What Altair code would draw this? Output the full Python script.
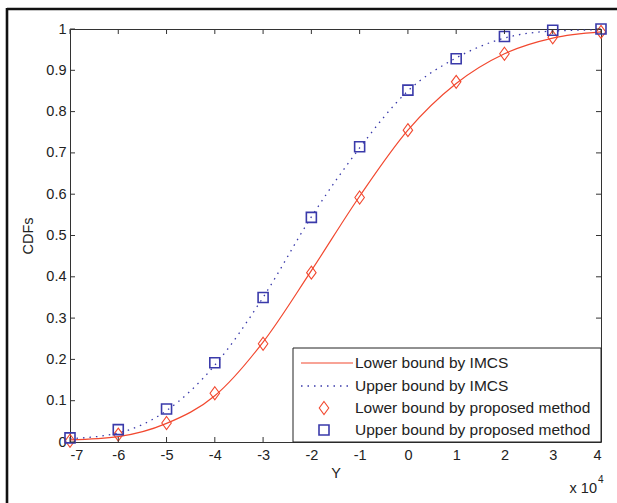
import altair as alt
import pandas as pd

# ---- data ----
x_vals = [-7, -6, -5, -4, -3, -2, -1, 0, 1, 2, 3, 4]
lower_imcs = [0.005, 0.013, 0.045, 0.112, 0.242, 0.415, 0.595, 0.755, 0.868, 0.94, 0.978, 0.993]
upper_imcs = [0.008, 0.022, 0.076, 0.186, 0.35, 0.545, 0.712, 0.85, 0.93, 0.978, 0.995, 0.998]
lower_prop = [0.003, 0.018, 0.046, 0.118, 0.238, 0.41, 0.592, 0.755, 0.872, 0.94, 0.98, 0.993]
upper_prop = [0.01, 0.03, 0.08, 0.192, 0.35, 0.544, 0.715, 0.852, 0.928, 0.982, 0.997, 1.0]

x_ticks = [-7, -6, -5, -4, -3, -2, -1, 0, 1, 2, 3, 4]
y_ticks = [0, 0.1, 0.2, 0.3, 0.4, 0.5, 0.6, 0.7, 0.8, 0.9, 1]

legend_labels = ["Lower bound by IMCS", "Upper bound by IMCS",
                 "Lower bound by proposed method", "Upper bound by proposed method"]

RED = "#F2482F"
BLUE = "#3A3AAA"
FONT = "Liberation Sans"
TXT = "#222222"
FS = 14.5

W, H = 531, 413

xs = alt.Scale(domain=[-7, 4], nice=False, zero=False)
ys = alt.Scale(domain=[0, 1], nice=False, zero=False)

df = pd.DataFrame({"x": x_vals, "lo": lower_imcs, "up": upper_imcs,
                   "lp": lower_prop, "upp": upper_prop})

xaxis = alt.Axis(values=x_ticks, title="Y", tickSize=0, domain=False, grid=False,
                 labelExpr="'' + datum.value", labelPadding=6, titlePadding=5,
                 labelFont=FONT, labelFontSize=FS, labelColor=TXT,
                 titleFont=FONT, titleFontSize=FS, titleColor=TXT, titleFontWeight="normal")
yaxis = alt.Axis(values=y_ticks, title="CDFs", tickSize=0, domain=False, grid=False,
                 labelExpr="'' + datum.value", labelPadding=4, titlePadding=10,
                 labelFont=FONT, labelFontSize=FS, labelColor=TXT,
                 titleFont=FONT, titleFontSize=FS, titleColor=TXT, titleFontWeight="normal")

base = alt.Chart(df)
line_lo = base.mark_line(color=RED, strokeWidth=1.2, interpolate="monotone").encode(
    x=alt.X("x:Q", scale=xs, axis=xaxis), y=alt.Y("lo:Q", scale=ys, axis=yaxis))
line_up = base.mark_line(color=BLUE, strokeWidth=1.3, strokeDash=[1.5, 5],
                         interpolate="monotone").encode(
    x=alt.X("x:Q", scale=xs), y=alt.Y("up:Q", scale=ys))

DIAMOND = "M0,-1.3L0.95,0L0,1.3L-0.95,0Z"
pts_lo = base.mark_point(shape=DIAMOND, size=100, filled=False, stroke=RED,
                         strokeWidth=1.1, opacity=1).encode(
    x=alt.X("x:Q", scale=xs), y=alt.Y("lp:Q", scale=ys))
pts_up = base.mark_point(shape="square", size=100, filled=False, stroke=BLUE,
                         strokeWidth=1.6, opacity=1).encode(
    x=alt.X("x:Q", scale=xs), y=alt.Y("upp:Q", scale=ys))

# inside ticks (MATLAB box style)
xt = alt.Chart(pd.DataFrame({"x": x_ticks}))
yt = alt.Chart(pd.DataFrame({"lo": y_ticks}))
tick_style = dict(color="#333333", strokeWidth=1)
tb = xt.mark_rule(**tick_style).encode(x=alt.X("x:Q", scale=xs), y=alt.value(H), y2=alt.value(H - 5))
tt = xt.mark_rule(**tick_style).encode(x=alt.X("x:Q", scale=xs), y=alt.value(0), y2=alt.value(5))
tl = yt.mark_rule(**tick_style).encode(y=alt.Y("lo:Q", scale=ys), x=alt.value(0), x2=alt.value(5))
tr = yt.mark_rule(**tick_style).encode(y=alt.Y("lo:Q", scale=ys), x=alt.value(W), x2=alt.value(W - 5))

# outer frame (top and left edges)
frame_top = alt.Chart(pd.DataFrame({"a": [0]})).mark_rule(color="#111111", strokeWidth=2.6).encode(
    x=alt.value(-63), x2=alt.value(560), y=alt.value(-20))
frame_left = alt.Chart(pd.DataFrame({"a": [0]})).mark_rule(color="#111111", strokeWidth=2.6).encode(
    x=alt.value(-63), y=alt.value(-21), y2=alt.value(480))

# x 10^4 multiplier
mult = alt.Chart(pd.DataFrame({"t": ["x 10"]})).mark_text(
    font=FONT, fontSize=FS, color=TXT, align="right", baseline="middle").encode(
    text="t:N", x=alt.value(527), y=alt.value(460))
mult_exp = alt.Chart(pd.DataFrame({"t": ["4"]})).mark_text(
    font=FONT, fontSize=10, color=TXT, align="left", baseline="middle").encode(
    text="t:N", x=alt.value(528), y=alt.value(451))

# legend (drawn manually, MATLAB style)
LX0, LX1, LY0, LY1 = 223, W, 319, H
leg_box = alt.Chart(pd.DataFrame({"a": [0]})).mark_rect(
    fill="white", stroke="#222222", strokeWidth=1).encode(
    x=alt.value(LX0), x2=alt.value(LX1), y=alt.value(LY0), y2=alt.value(LY1))
rows = [334, 357, 379, 401]
leg_layers = [leg_box]
for lab, ry in zip(legend_labels, rows):
    leg_layers.append(alt.Chart(pd.DataFrame({"t": [lab]})).mark_text(
        font=FONT, fontSize=15.5, color=TXT, align="left", baseline="middle").encode(
        text="t:N", x=alt.value(285), y=alt.value(ry)))
leg_layers.append(alt.Chart(pd.DataFrame({"a": [0]})).mark_rule(color=RED, strokeWidth=1.2).encode(
    x=alt.value(231), x2=alt.value(283), y=alt.value(rows[0])))
leg_layers.append(alt.Chart(pd.DataFrame({"a": [0]})).mark_rule(
    color=BLUE, strokeWidth=1.3, strokeDash=[1.5, 5]).encode(
    x=alt.value(231), x2=alt.value(283), y=alt.value(rows[1])))
leg_layers.append(alt.Chart(pd.DataFrame({"a": [0]})).mark_point(
    shape=DIAMOND, size=100, filled=False, stroke=RED, strokeWidth=1.1, opacity=1).encode(
    x=alt.value(254), y=alt.value(rows[2])))
leg_layers.append(alt.Chart(pd.DataFrame({"a": [0]})).mark_point(
    shape="square", size=100, filled=False, stroke=BLUE, strokeWidth=1.6, opacity=1).encode(
    x=alt.value(254), y=alt.value(rows[3])))

chart = alt.layer(
    line_lo, line_up, pts_lo, pts_up, tb, tt, tl, tr,
    frame_top, frame_left, mult, mult_exp, *leg_layers
).properties(
    width=W, height=H,
    autosize=alt.AutoSizeParams(type="none"),
    padding={"left": 70, "top": 29, "right": 16, "bottom": 61},
    background="white",
).configure_view(stroke="#333333", strokeWidth=1)

chart.save("out.html", embed_options={"renderer": "svg", "actions": False})
